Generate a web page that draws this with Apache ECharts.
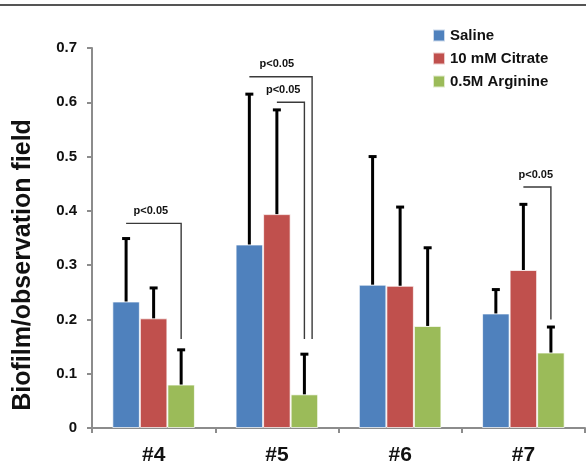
<!DOCTYPE html>
<html>
<head>
<meta charset="utf-8">
<script src="https://cdn.jsdelivr.net/npm/echarts@6/dist/echarts.min.js"></script>
<style>
html, body { margin: 0; padding: 0; background: #fff; }
#chart { width: 586px; height: 465px; }
</style>
</head>
<body>
<div id="chart"></div>
<script>
// Isolates and groups
const categories = ['#4', '#5', '#6', '#7'];
const seriesNames = ['Saline', '10 mM Citrate', '0.5M Arginine'];

// Mean biofilm per observation field
const saline   = [0.233, 0.338, 0.264, 0.211];
const citrate  = [0.202, 0.394, 0.262, 0.291];
const arginine = [0.080, 0.062, 0.188, 0.139];

// Standard deviations (upper whisker only)
const salineSd   = [0.116, 0.277, 0.236, 0.044];
const citrateSd  = [0.056, 0.192, 0.145, 0.121];
const arginineSd = [0.064, 0.074, 0.144, 0.047];

// Significance brackets: category, start/end bar slot, bracket height, drop end, label
const bracketCat   = [0, 1, 1, 3];
const bracketFrom  = [-1, -1, 0, 0];
const bracketTo    = [1, 1.28, 1, 1];
const bracketTop   = [0.377, 0.647, 0.600, 0.444];
const bracketEnd   = [0.164, 0.164, 0.164, 0.200];
const bracketLabel = ['p<0.05', 'p<0.05', 'p<0.05', 'p<0.05'];
const labelShift   = [-0.1, 0, 0.23, 0.45];

const colors = ['#4F81BD', '#C0504D', '#9BBB59'];
const means = [saline, citrate, arginine];
const sds = [salineSd, citrateSd, arginineSd];
const GAP = 0.33;
const FONT = '"Liberation Sans", Arial, sans-serif';

// width of one bar inside a category band
function slotWidth(api) {
  return api.size([1, 0])[0] * (1 - GAP) / 3;
}

const barSeries = seriesNames.map((name, k) => ({
  name: name,
  type: 'bar',
  data: means[k],
  barGap: '0%',
  barCategoryGap: (GAP * 100) + '%',
  itemStyle: { color: colors[k], borderColor: 'rgba(255,255,255,0.7)', borderWidth: 1 },
  z: 2
}));

const errorSeries = seriesNames.map((name, k) => ({
  name: name + ' SD',
  type: 'custom',
  data: means[k].map((m, i) => [i, m, m + sds[k][i]]),
  encode: { x: 0, y: [1, 2] },
  z: 3,
  renderItem: function (params, api) {
    const base = api.coord([api.value(0), api.value(1)]);
    const top = api.coord([api.value(0), api.value(2)]);
    const x = base[0] + (k - 1) * slotWidth(api);
    return {
      type: 'group',
      children: [
        { type: 'line', shape: { x1: x, y1: base[1], x2: x, y2: top[1] },
          style: { stroke: '#000', lineWidth: 3 } },
        { type: 'line', shape: { x1: x - 4, y1: top[1], x2: x + 4, y2: top[1] },
          style: { stroke: '#000', lineWidth: 3 } }
      ]
    };
  }
}));

const bracketSeries = {
  name: 'significance',
  type: 'custom',
  data: bracketCat.map((c, i) => [c, bracketTop[i], bracketEnd[i], i]),
  encode: { x: 0, y: [1, 2] },
  z: 4,
  renderItem: function (params, api) {
    const i = api.value(3);
    const w = slotWidth(api);
    const p = api.coord([api.value(0), api.value(1)]);
    const q = api.coord([api.value(0), api.value(2)]);
    const x1 = p[0] + bracketFrom[i] * w;
    const x2 = p[0] + bracketTo[i] * w;
    return {
      type: 'group',
      children: [
        { type: 'polyline', shape: { points: [[x1, p[1]], [x2, p[1]], [x2, q[1]]] },
          style: { stroke: '#3a3a3a', lineWidth: 1.4, fill: null } },
        { type: 'text',
          style: { x: p[0] + labelShift[i] * w, y: p[1] - 7, text: bracketLabel[i],
                   align: 'center', verticalAlign: 'bottom',
                   font: 'bold 11px ' + FONT, fill: '#111' } }
      ]
    };
  }
};

const chart = echarts.init(document.getElementById('chart'), null, { renderer: 'canvas' });
chart.setOption({
  animation: false,
  backgroundColor: '#fff',
  textStyle: { fontFamily: FONT },
  graphic: [
    { type: 'line', shape: { x1: 0, y1: 5, x2: 586, y2: 5 },
      style: { stroke: '#555', lineWidth: 2 } }
  ],
  legend: {
    data: seriesNames,
    orient: 'vertical',
    left: 427,
    top: 23,
    itemWidth: 12,
    itemHeight: 12,
    itemGap: 8,
    icon: 'rect',
    textStyle: { fontSize: 15, fontWeight: 'bold', color: '#111', fontFamily: FONT }
  },
  grid: { left: 92, right: 1, top: 48, bottom: 37, containLabel: false, outerBoundsMode: 'none' },
  xAxis: {
    type: 'category',
    data: categories,
    axisLine: { lineStyle: { color: '#8c8c8c', width: 2 } },
    axisTick: { show: true, length: 5, lineStyle: { color: '#8c8c8c', width: 2 } },
    axisLabel: { margin: 17, fontSize: 21, fontWeight: 'bold', color: '#111', fontFamily: FONT }
  },
  yAxis: {
    type: 'value',
    min: 0,
    max: 0.7,
    interval: 0.1,
    name: 'Biofilm/observation field',
    nameLocation: 'middle',
    nameGap: 56,
    nameTextStyle: { fontSize: 25, fontWeight: 'bold', color: '#111', fontFamily: FONT, padding: [0, 54, 0, 0] },
    axisLine: { show: true, lineStyle: { color: '#8c8c8c', width: 2 } },
    axisTick: { show: true, length: 5, lineStyle: { color: '#8c8c8c', width: 2 } },
    splitLine: { show: false },
    axisLabel: { margin: 15, fontSize: 15, fontWeight: 'bold', color: '#111', fontFamily: FONT }
  },
  series: [...barSeries, ...errorSeries, bracketSeries]
});
</script>
</body>
</html>
